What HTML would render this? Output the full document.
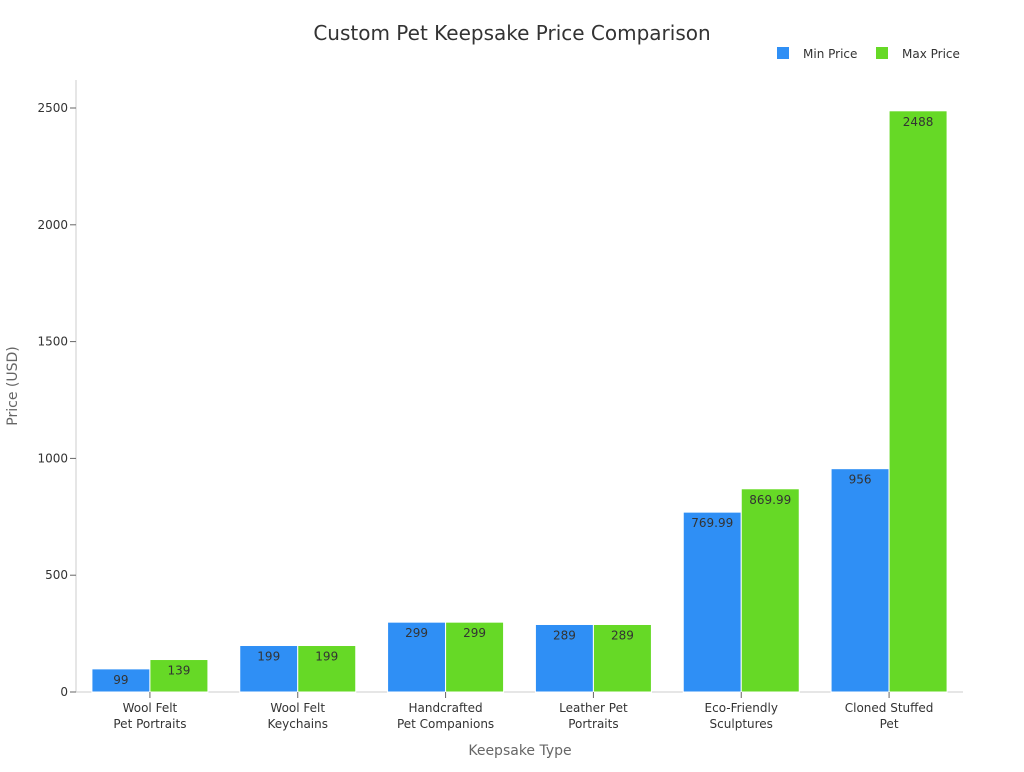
<!DOCTYPE html>
<html><head><meta charset="utf-8"><style>
body{margin:0;background:#fff;font-family:"DejaVu Sans","Liberation Sans",sans-serif;}
svg text{font-family:"DejaVu Sans","Liberation Sans",sans-serif;}
</style></head><body>
<svg id="chart" width="1024" height="768">
<text x="512" y="40" text-anchor="middle" font-size="20" fill="#333">Custom Pet Keepsake Price Comparison</text>
<g>
<rect x="777" y="47" width="12" height="12" fill="#2f8ff5"/>
<text x="803" y="58" font-size="12" fill="#333">Min Price</text>
<rect x="876" y="47" width="12" height="12" fill="#66d926"/>
<text x="902" y="58" font-size="12" fill="#333">Max Price</text>
</g>
<text transform="translate(17,386) rotate(-90)" text-anchor="middle" font-size="14" fill="#666">Price (USD)</text>
<text x="520" y="755" text-anchor="middle" font-size="14" fill="#666">Keepsake Type</text>
<g id="plot"></g>
</svg>
<script>
const categories=[["Wool Felt","Pet Portraits"],["Wool Felt","Keychains"],["Handcrafted","Pet Companions"],["Leather Pet","Portraits"],["Eco-Friendly","Sculptures"],["Cloned Stuffed","Pet"]];
const minPrice=[99,199,299,289,769.99,956];
const maxPrice=[139,199,299,289,869.99,2488];
const yTicks=[0,500,1000,1500,2000,2500];
const NS="http://www.w3.org/2000/svg";
const g=document.getElementById("plot");
const x0=76,x1=963,yBase=692,yTop=108,yMaxVal=2500;
const y=v=>yBase-(v/yMaxVal)*(yBase-yTop);
const band=(x1-x0)/categories.length;
const cx=i=>x0+band*(i+0.5);
const bw=58;
function el(t,a){const e=document.createElementNS(NS,t);for(const k in a)e.setAttribute(k,a[k]);g.appendChild(e);return e;}
const ax=el("line",{x1:x0,y1:yTop-28,x2:x0,y2:yBase,stroke:"#ccc"});


const bx=el("line",{x1:x0,y1:yBase,x2:x1,y2:yBase,stroke:"#ccc"});


yTicks.forEach(v=>{
 const tk=el("line",{x1:x0-6,x2:x0,y1:y(v),y2:y(v),stroke:"#666"});
 
 
 const t=el("text",{x:x0-8,y:y(v)+4,"text-anchor":"end","font-size":12,fill:"#333"});
 t.textContent=v;
 
 
});
function fmt(v){return String(v);}
categories.forEach((c,i)=>{
 const c0=cx(i);
 [[minPrice[i],c0-bw,"#2f8ff5","bar-min"],[maxPrice[i],c0,"#66d926","bar-max"]].forEach(([v,bx0,col,nm])=>{
  const r=el("rect",{x:bx0,y:y(v),width:bw,height:yBase-y(v),fill:col,stroke:"#fff","stroke-width":1});
  
  
  const t=el("text",{x:bx0+bw/2,y:y(v)+15,"text-anchor":"middle","font-size":12,fill:"#333"});
  t.textContent=fmt(v);
  
  
 });
 const tk=el("line",{x1:c0,x2:c0,y1:yBase,y2:yBase+6,stroke:"#666"});
 
 
 c.forEach((ln,j)=>{
  const t=el("text",{x:c0,y:yBase+20+j*16,"text-anchor":"middle","font-size":12,fill:"#333"});
  t.textContent=ln;
  
  
 });
});
</script>
</body></html>
